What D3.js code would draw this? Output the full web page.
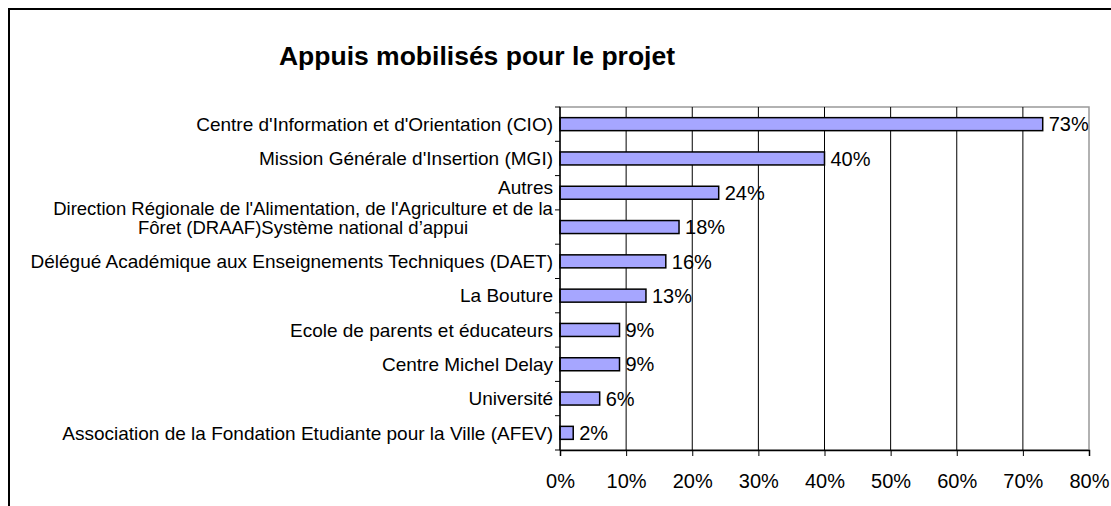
<!DOCTYPE html>
<html>
<head>
<meta charset="utf-8">
<script src="https://cdn.jsdelivr.net/npm/d3@7"></script>
<style>
  body { margin: 0; background: #fff; }
  text { font-family: "Liberation Sans", Arial, sans-serif; fill: #000; }
</style>
</head>
<body>
<div id="chart"></div>
<script>
// data, top to bottom
var categories = [
  "Centre d'Information et d'Orientation (CIO)",
  "Mission Générale d'Insertion (MGI)",
  "Autres",
  "Direction Régionale de l'Alimentation, de l'Agriculture et de la|Fôret (DRAAF)Système national d’appui",
  "Délégué Académique aux Enseignements Techniques (DAET)",
  "La Bouture",
  "Ecole de parents et éducateurs",
  "Centre Michel Delay",
  "Université",
  "Association de la Fondation Etudiante pour la Ville (AFEV)"
];
var values = [73, 40, 24, 18, 16, 13, 9, 9, 6, 2];
var xTicks = [0, 10, 20, 30, 40, 50, 60, 70, 80];
var title = "Appuis mobilisés pour le projet";

var W = 1111, H = 506;
var plot = {left: 560, right: 1089, top: 107, bottom: 450};

var svg = d3.select("#chart").append("svg")
  .attr("width", W)
  .attr("height", H);

// outer frame (runs off the right and bottom edges)
svg.append("rect")
  .attr("x", 9).attr("y", 9)
  .attr("width", 1120).attr("height", 520)
  .attr("fill", "none")
  .attr("stroke", "#000")
  .attr("stroke-width", 2);

svg.append("text")
  .attr("x", 477).attr("y", 65)
  .attr("text-anchor", "middle")
  .style("font-size", "26.5px")
  .style("font-weight", "bold")
  .text(title);

var x = d3.scaleLinear().domain([0, 80]).range([plot.left, plot.right]);
var y = d3.scaleBand().domain(categories).range([plot.top, plot.bottom]).paddingInner(0).paddingOuter(0);

// plot border (grey)
svg.append("rect")
  .attr("x", plot.left).attr("y", plot.top)
  .attr("width", plot.right - plot.left).attr("height", plot.bottom - plot.top)
  .attr("fill", "none")
  .attr("stroke", "#999")
  .attr("stroke-width", 1.5);

// vertical gridlines
svg.append("g")
  .selectAll("line")
  .data(xTicks.slice(1, -1))
  .enter().append("line")
    .attr("x1", function(d) { return x(d); })
    .attr("x2", function(d) { return x(d); })
    .attr("y1", plot.top)
    .attr("y2", plot.bottom)
    .attr("stroke", "#000")
    .attr("stroke-width", 1);

// bars
var barH = 13;
svg.append("g")
  .selectAll("rect")
  .data(values)
  .enter().append("rect")
    .attr("x", x(0))
    .attr("y", function(d, i) { return y(categories[i]) + y.bandwidth() / 2 - barH / 2; })
    .attr("width", function(d) { return x(d) - x(0); })
    .attr("height", barH)
    .attr("fill", "#a6a6ff")
    .attr("stroke", "#000")
    .attr("stroke-width", 1.5);

// value labels
svg.append("g")
  .selectAll("text")
  .data(values)
  .enter().append("text")
    .attr("x", function(d) { return x(d) + 6; })
    .attr("y", function(d, i) { return y(categories[i]) + y.bandwidth() / 2; })
    .attr("dy", "0.36em")
    .style("font-size", "20px")
    .text(function(d) { return d + "%"; });

// x axis
var xAxis = d3.axisBottom(x)
  .tickValues(xTicks)
  .tickSize(6)
  .tickPadding(18)
  .tickFormat(function(d) { return d + "%"; });

var gx = svg.append("g")
  .attr("transform", "translate(0," + plot.bottom + ")")
  .call(xAxis);
gx.select(".domain").attr("stroke", "#000").attr("stroke-width", 1.5);
gx.selectAll("text").style("font-size", "20px").style("font-family", "Liberation Sans, Arial, sans-serif").attr("fill", "#000");

// y axis line + ticks on category boundaries
svg.append("line")
  .attr("x1", plot.left).attr("x2", plot.left)
  .attr("y1", plot.top).attr("y2", plot.bottom)
  .attr("stroke", "#000").attr("stroke-width", 1.5);

var bounds = categories.map(function(c) { return y(c); }).concat([plot.bottom]);
svg.append("g")
  .selectAll("line")
  .data(bounds)
  .enter().append("line")
    .attr("x1", plot.left - 5).attr("x2", plot.left)
    .attr("y1", function(d) { return d; })
    .attr("y2", function(d) { return d; })
    .attr("stroke", "#000");

// category labels
var labels = svg.append("g");
categories.forEach(function(c, i) {
  var cy = y(c) + y.bandwidth() / 2;
  var parts = c.split("|");
  if (parts.length === 1) {
    labels.append("text")
      .attr("x", plot.left - 7)
      .attr("y", c === "Autres" ? cy - 6 : cy)
      .attr("dy", "0.36em")
      .attr("text-anchor", "end")
      .style("font-size", "19px")
      .text(c);
  } else {
    parts.forEach(function(p, j) {
      labels.append("text")
        .attr("x", 303)
        .attr("y", cy - (parts.length - 1 - j) * 19)
        .attr("dy", "0.36em")
        .attr("text-anchor", "middle")
        .style("font-size", "18.5px")
        .text(p);
    });
  }
});
</script>
</body>
</html>
